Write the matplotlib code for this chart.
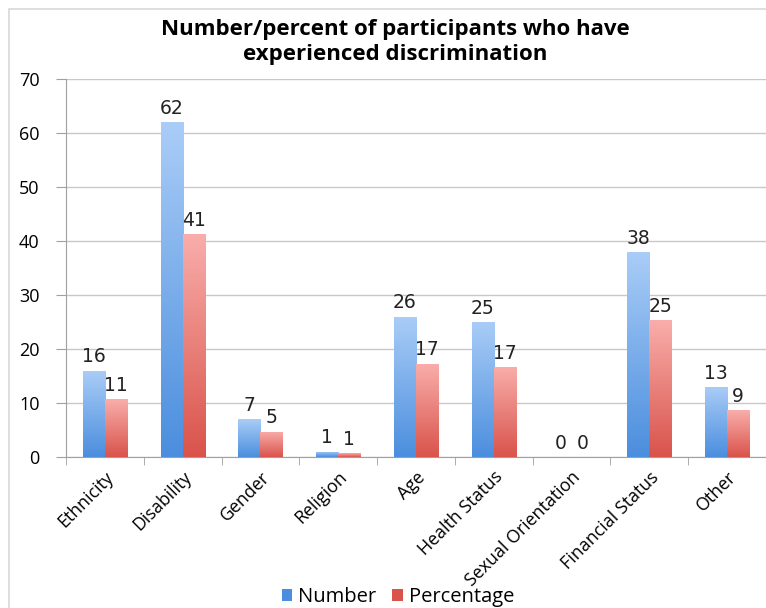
import numpy as np
import matplotlib.pyplot as plt
from matplotlib.colors import LinearSegmentedColormap
from matplotlib.patches import Patch, Rectangle

categories = ['Ethnicity', 'Disability', 'Gender', 'Religion', 'Age',
              'Health Status', 'Sexual Orientation', 'Financial Status', 'Other']
number = [16, 62, 7, 1, 26, 25, 0, 38, 13]
percentage = [10.7, 41.3, 4.7, 0.7, 17.3, 16.7, 0, 25.3, 8.7]
number_labels = ['16', '62', '7', '1', '26', '25', '0', '38', '13']
percentage_labels = ['11', '41', '5', '1', '17', '17', '0', '25', '9']

blue_dark, blue_light = '#4b8ede', '#aacdf7'
red_dark, red_light = '#d9534b', '#f9aeab'

fig = plt.figure(figsize=(7.66, 6.08), dpi=100)
ax = fig.add_axes([66 / 766, 1 - 457 / 608, 700 / 766, 378 / 608])

x = np.arange(len(categories))
w = 0.283
bars_n = ax.bar(x - w / 2, number, w, facecolor='none', edgecolor='none', zorder=3)
bars_p = ax.bar(x + w / 2, percentage, w, facecolor='none', edgecolor='none', zorder=3)

# vertical gradient fill, dark at the bottom, light at the top
grad = np.linspace(0, 1, 256).reshape(-1, 1)
for bars, c0, c1 in [(bars_n, blue_dark, blue_light), (bars_p, red_dark, red_light)]:
    cmap = LinearSegmentedColormap.from_list('g', [c0, c1])
    for b in bars:
        x0, y0 = b.get_xy()
        h = b.get_height()
        if h <= 0:
            continue
        im = ax.imshow(grad, extent=(x0, x0 + b.get_width(), y0, y0 + h), origin='lower',
                       cmap=cmap, aspect='auto', zorder=3, interpolation='bilinear')
        im.set_clip_path(b)

for bars, labs in [(bars_n, number_labels), (bars_p, percentage_labels)]:
    for b, t in zip(bars, labs):
        ax.annotate(t, (b.get_x() + b.get_width() / 2, b.get_height()),
                    xytext=(0, 3), textcoords='offset points', ha='center', va='bottom',
                    fontsize=13.5, family='DejaVu Sans', color='#222222')

ax.set_xlim(-0.5, len(categories) - 0.5)
ax.set_ylim(0, 70)
ax.set_yticks(range(0, 71, 10))
ax.yaxis.grid(True, color='#c8c8c8', linewidth=1)
ax.set_axisbelow(True)
for s in ['top', 'right']:
    ax.spines[s].set_visible(False)
for s in ['left', 'bottom']:
    ax.spines[s].set_color('#a0a0a0')
ax.tick_params(axis='y', length=7, color='#a0a0a0', labelsize=13, pad=12)
ax.set_xticks(np.arange(len(categories) + 1) - 0.5, minor=True)
ax.set_xticks(x)
ax.set_xticklabels(categories, rotation=45, ha='right', rotation_mode='anchor',
                   fontsize=12.8)
ax.tick_params(axis='x', which='major', length=0, pad=8)
ax.tick_params(axis='x', which='minor', length=6, color='#a0a0a0')
for lab in ax.get_xticklabels() + ax.get_yticklabels():
    lab.set_family('Open Sans')

fig.text(395 / 766, 1 - 42 / 608, 'Number/percent of participants who have\nexperienced discrimination',
         ha='center', va='center', fontsize=16, fontweight='bold', family='Open Sans',
         linespacing=1.2)

handles = [Patch(facecolor=blue_dark, edgecolor='none'), Patch(facecolor=red_dark, edgecolor='none')]
fig.legend(handles, ['Number', 'Percentage'], loc='center', bbox_to_anchor=(398 / 766, 1 - 597 / 608),
           ncol=2, frameon=False, handlelength=0.5, handleheight=0.5, handletextpad=0.3,
           columnspacing=0.8, prop={'family': 'Open Sans', 'size': 14.5})

fig.patches.append(Rectangle((9 / 766, -0.1), 1.2, 1 - 9 / 608 + 0.1, transform=fig.transFigure,
                             facecolor='none', edgecolor='#d8d8d8', linewidth=1.2))

fig.savefig('out.png', dpi=100)
